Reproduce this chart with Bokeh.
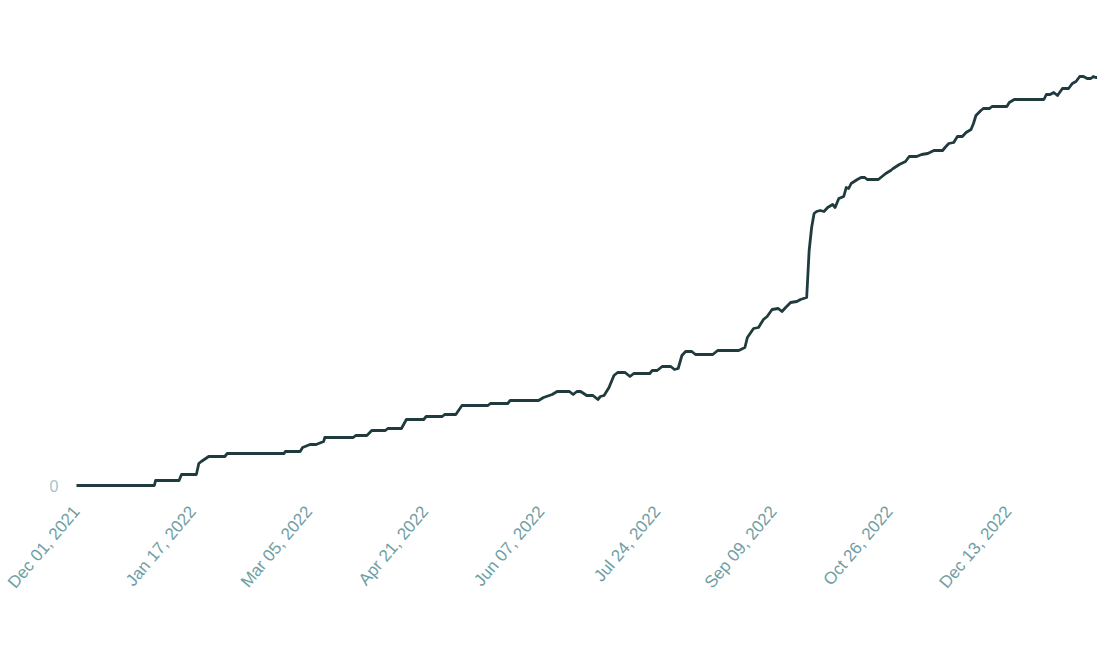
import math
import pandas as pd
from bokeh.plotting import figure
from bokeh.models import FixedTicker, DatetimeTickFormatter, Range1d, ColumnDataSource
from bokeh.embed import file_html
from bokeh.resources import INLINE

start_date = "2021-12-01"
# days since start
day_offsets = [0, 31.5, 32, 41.5, 42.5, 48.5, 49.5, 50.5, 53.5, 60, 61, 84, 84.5, 90.5, 91.5, 94.5, 97,
               100, 100.5, 112, 113, 117.5, 119.5, 125, 126, 131.5, 133.5, 140.5, 141.5, 148, 149, 153.5,
               156, 166.5, 167.5, 174.5, 175.5, 187, 189, 192.5, 194.5, 199.5, 201, 202.5, 204, 206.5,
               209, 211, 212, 213.5, 215.5, 217.5, 219, 222, 224, 225.5, 232, 233, 235, 237, 240.5, 242,
               243.5, 245, 246.5, 249, 250.5, 257.5, 259.5, 268, 270.5, 271.5, 274, 276, 278, 279.5,
               281.5, 284, 285.5, 287, 289, 291.5, 293, 295.5, 296.5, 297.5, 298.5, 299.5, 301, 302.5,
               304, 306, 307, 308.5, 310.5, 311.5, 312.5, 313.5, 316, 317.5, 319, 320, 324.5, 327.5,
               329.5, 330.5, 333, 335.5, 337, 340, 342, 344.5, 347, 350.5, 351.5, 353, 355, 356.5, 358.5,
               360, 362, 363, 364, 366, 367, 369.5, 370.5, 376.5, 377.5, 379.5, 391.5, 392.5, 394, 395.5,
               397, 399, 401.5, 403, 404.5, 406, 407.5, 409, 410.5, 411.5, 412.5, 413]
values = [0, 0, 5, 5, 11, 11, 22, 24, 29, 29, 32, 32, 34, 34, 38, 41, 41,
          44, 48, 48, 50, 50, 55, 55, 57, 57, 66, 66, 69, 69, 71, 71,
          80, 80, 82, 82, 85, 85, 88, 91, 94, 94, 91, 94, 94, 90,
          90, 86, 89, 90, 98, 110, 113, 113, 109, 112, 112, 115, 115, 119, 119, 116,
          117, 130, 134, 134, 131, 131, 135, 135, 138, 148, 157, 158, 166, 169,
          176, 177, 174, 178, 183, 184, 186, 188, 235, 258, 272, 274, 275, 274,
          278, 281, 278, 287, 289, 298, 297, 302, 306, 308, 308, 306, 306, 312,
          315, 317, 321, 324, 329, 329, 331, 332, 335, 335, 338, 342, 343, 349, 349,
          353, 356, 362, 370, 375, 377, 377, 379, 379, 383, 386, 386, 391, 391, 393,
          390, 397, 397, 402, 404, 409, 409, 407, 407, 409, 408, 408]

tick_dates = ["2021-12-01", "2022-01-17", "2022-03-05", "2022-04-21", "2022-06-07",
              "2022-07-24", "2022-09-09", "2022-10-26", "2022-12-13"]

t0 = pd.Timestamp(start_date)
dates = [t0 + pd.Timedelta(days=d) for d in day_offsets]
src = ColumnDataSource(dict(x=dates, y=values))

px_per_day = 2.471
x_start = t0 - pd.Timedelta(days=10 / px_per_day)
x_end = t0 + pd.Timedelta(days=(1102 - 76) / px_per_day)

p = figure(width=1104, height=636, x_axis_type="datetime", output_backend="svg",
           toolbar_location=None, min_border_left=66, min_border_right=2,
           min_border_top=28, min_border_bottom=141,
           x_range=Range1d(x_start, x_end), y_range=Range1d(-10, 457))

p.line("x", "y", source=src, line_color="#1f3b3e", line_width=2.8, line_join="round")

p.outline_line_color = None
p.grid.visible = False
p.background_fill_color = "white"
p.border_fill_color = "white"

tick_ms = [pd.Timestamp(d).value / 1e6 for d in tick_dates]
p.xaxis.ticker = FixedTicker(ticks=tick_ms)
p.xaxis.formatter = DatetimeTickFormatter(days="%b %d, %Y", months="%b %d, %Y", years="%b %d, %Y")
p.xaxis.major_label_orientation = 0.87
p.xaxis.major_label_text_font = "Liberation Sans"
p.xaxis.major_label_text_font_size = "17px"
p.xaxis.major_label_text_color = "#6e9ea3"
p.xaxis.major_label_standoff = 13

p.yaxis.ticker = FixedTicker(ticks=[0])
p.yaxis.major_label_text_font = "Liberation Sans"
p.yaxis.major_label_text_font_size = "16px"
p.yaxis.major_label_text_color = "#a6c4c7"
p.yaxis.major_label_standoff = 8

for ax in (p.xaxis, p.yaxis):
    ax.axis_line_color = None
    ax.major_tick_line_color = None
    ax.minor_tick_line_color = None
    ax.major_tick_out = 0
    ax.major_tick_in = 0

open("out.html", "w").write(file_html(p, INLINE))
